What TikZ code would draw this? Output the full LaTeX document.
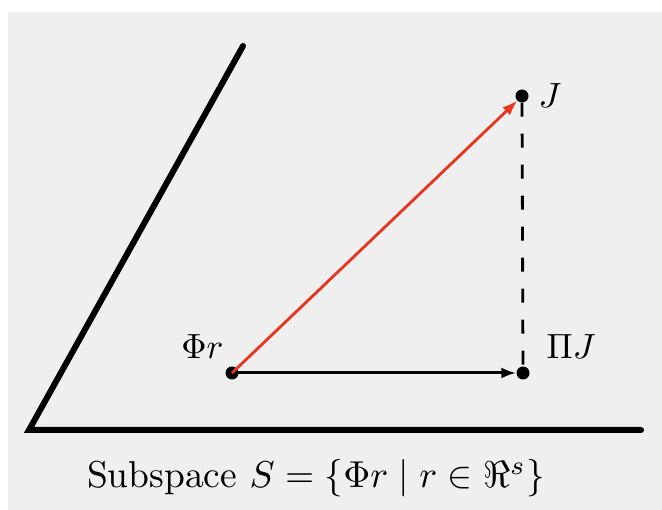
\documentclass[tikz,border=0pt]{standalone}
\usetikzlibrary{arrows.meta}
\definecolor{bggray}{HTML}{EFEFEF}
\definecolor{vecred}{HTML}{E8341C}
\begin{document}
\begin{tikzpicture}[x=1pt,y=-1pt,
  axis/.style={line width=6pt,line cap=round,line join=miter},
  dotpt/.style={circle,fill=black,inner sep=0pt,minimum size=13pt},
  lab/.style={inner sep=0pt,scale=3.5},
  redvec/.style={vecred,line width=2.8pt,-{Latex[length=15pt,width=11pt]}},
  blkvec/.style={black,line width=3pt,-{Latex[length=15pt,width=11pt]}},
  proj/.style={line width=2.8pt,dash pattern=on 14pt off 17pt}]
\useasboundingbox (0,0) rectangle (662,510);
\fill[white] (0,0) rectangle (662,510);
\fill[bggray] (8,12) rectangle (662,510);
% subspace
\coordinate (o) at (29,430);
\coordinate (top) at (243,46);
\coordinate (rt) at (641,430);
\draw[axis] (top) -- (o) -- (rt);
% points
\node[dotpt] (phir) at (232,373) {};
\node[dotpt] (pij) at (523,373) {};
\node[dotpt] (j) at (522,96) {};
\draw[proj] (j) -- (pij);
\draw[blkvec] (phir.center) -- (pij.west);
\draw[redvec] (phir.center) -- (j.south west);
% labels
\node[lab,anchor=base east] (lphir) at (224,359) {$\Phi r$};
\node[lab,anchor=base west] (lpij) at (546,359) {$\Pi J$};
\node[lab,anchor=base west] (lj) at (538,108) {$J$};
\node[lab,scale=1.07,anchor=base] (cap) at (316,488) {Subspace $S=\{\Phi r\mid r\in\Re^s\}$};
\end{tikzpicture}
\end{document}
